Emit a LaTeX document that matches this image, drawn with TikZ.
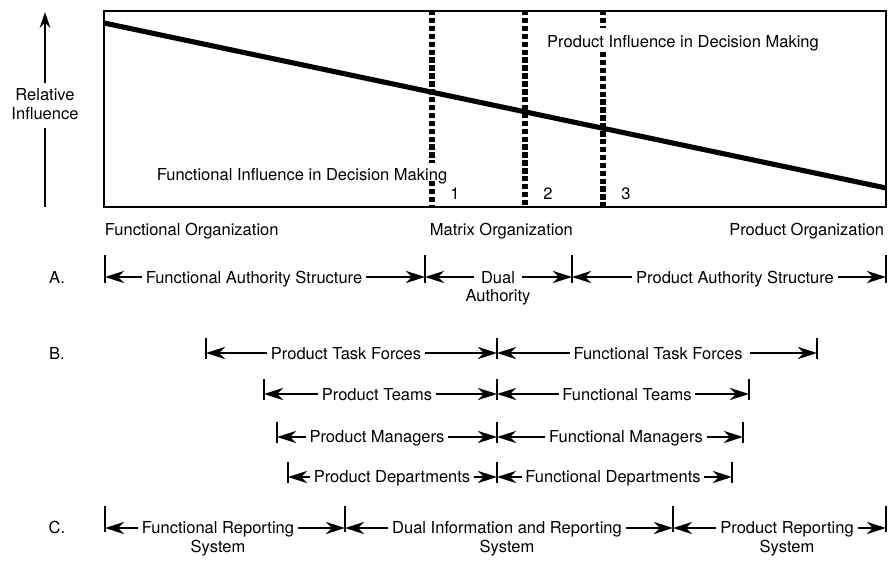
\documentclass[tikz,border=0pt]{standalone}
\usepackage{fontspec}
\setmainfont{TeX Gyre Heros}
\usetikzlibrary{arrows.meta,positioning}
\tikzstyle{txt} = [inner xsep=2pt, inner ysep=0pt, font=\fontsize{9.4}{11}\selectfont]
\tikzstyle{lbl} = [txt, anchor=base]
\tikzstyle{span} = [-{Stealth[length=11pt, width=7pt, inset=3.5pt]}, line width=0.9pt]
\tikzstyle{endtick} = [line width=0.7pt]
\tikzstyle{divider} = [line width=3.8pt, dash pattern=on 3.1pt off 1.4pt]
\tikzstyle{trend} = [line width=2.9pt]

\begin{document}
\begin{tikzpicture}[x=0.02cm, y=-0.02cm]
\useasboundingbox (0,0) rectangle (888,561);

% influence chart
\draw [line width=0.7pt] (104,11) rectangle (886,207);
\coordinate (tl) at (104,23);
\coordinate (tr) at (886,188);
\draw [trend] (tl) -- (tr);

\draw [divider] (432,10) -- (432,163);
\draw [divider] (432,181) -- (432,207);
\draw [divider] (525,10) -- (525,207);
\draw [divider] (603,10) -- (603,28);
\draw [divider] (603,52) -- (603,207);

\node [lbl] (funinf) at (302,180) {Functional Influence in Decision Making};
\node [lbl] (prodinf) at (683,47) {Product Influence in Decision Making};
\node [lbl] (n1) at (455,199) {1};
\node [lbl] (n2) at (548,199) {2};
\node [lbl] (n3) at (626,199) {3};

\node [txt, align=center] (relinf) at (45,104) {Relative\\Influence};
\coordinate (axtop) at (45,12);
\coordinate (axup) at (45,83);
\coordinate (axdn) at (45,128);
\coordinate (axbot) at (45,207);
\draw [-{Stealth[length=9pt, width=6pt, inset=3pt]}, line width=0.9pt] (axup) -- (axtop);
\draw [line width=0.9pt] (axdn) -- (axbot);

\node [lbl, anchor=base west] (forg) at (101,235) {Functional Organization};
\node [lbl, anchor=base west] (morg) at (426,235) {Matrix Organization};
\node [lbl, anchor=base east] (porg) at (888,235) {Product Organization};

% A. authority
\node [lbl] (rowa) at (57,283) {A.};
\coordinate (a0) at (105,277);
\coordinate (a1) at (425,277);
\coordinate (a2) at (572,277);
\coordinate (a3) at (886,277);
\foreach \t in {a0,a1,a2,a3}
  \draw [endtick] ([yshift=12.5pt]\t) -- ([yshift=-3.4pt]\t);
\node [lbl] (fas) at (254,283) {Functional Authority Structure};
\node [lbl] (dual) at (498,283) {Dual};
\node [lbl, below=10.8pt of dual.base, anchor=base] (dualb) {Authority};
\node [lbl] (pas) at (735,283) {Product Authority Structure};
\draw [span] (fas.west |- a0) -- (a0);
\draw [span] (fas.east |- a1) -- (a1);
\draw [span] ([xshift=-2pt]dual.west |- a1) -- (a1);
\draw [span] ([xshift=2pt]dual.east |- a2) -- (a2);
\draw [span] (pas.west |- a2) -- (a2);
\draw [span] (pas.east |- a3) -- (a3);

% B. task forces, teams, managers, departments
\node [lbl] (rowb) at (57,359) {B.};
\coordinate (b1l) at (206,353);
\coordinate (bm1) at (497,353);
\coordinate (b1r) at (817,353);
\coordinate (b2l) at (264,394);
\coordinate (bm2) at (497,394);
\coordinate (b2r) at (749,394);
\coordinate (b3l) at (277,437);
\coordinate (bm3) at (497,437);
\coordinate (b3r) at (743,437);
\coordinate (b4l) at (288,477);
\coordinate (bm4) at (497,477);
\coordinate (b4r) at (732,477);
\foreach \t in {b1l,bm1,b1r,b2l,bm2,b2r,b3l,bm3,b3r,b4l,bm4,b4r}
  \draw [endtick] ([yshift=8.5pt]\t) -- ([yshift=-3.4pt]\t);

\node [lbl] (ptf) at (346,359) {Product Task Forces};
\node [lbl] (ftf) at (658,359) {Functional Task Forces};
\node [lbl] (pt) at (377,400) {Product Teams};
\node [lbl] (ft) at (627,400) {Functional Teams};
\node [lbl] (pm) at (377,442) {Product Managers};
\node [lbl] (fm) at (626,442) {Functional Managers};
\node [lbl] (pd) at (392,482) {Product Departments};
\node [lbl] (fd) at (613,482) {Functional Departments};

\draw [span] (ptf.west |- b1l) -- (b1l);
\draw [span] (ptf.east |- bm1) -- (bm1);
\draw [span] (ftf.west |- bm1) -- (bm1);
\draw [span] ([xshift=2pt]ftf.east |- b1r) -- (b1r);
\draw [span] (pt.west |- b2l) -- (b2l);
\draw [span] (pt.east |- bm2) -- (bm2);
\draw [span] (ft.west |- bm2) -- (bm2);
\draw [span] (ft.east |- b2r) -- (b2r);
\draw [span] (pm.west |- b3l) -- (b3l);
\draw [span] (pm.east |- bm3) -- (bm3);
\draw [span] (fm.west |- bm3) -- (bm3);
\draw [span] (fm.east |- b3r) -- (b3r);
\draw [span] (pd.west |- b4l) -- (b4l);
\draw [span] (pd.east |- bm4) -- (bm4);
\draw [span] (fd.west |- bm4) -- (bm4);
\draw [span] (fd.east |- b4r) -- (b4r);

% C. reporting
\node [lbl] (rowc) at (57,533) {C.};
\coordinate (c0) at (105,528);
\coordinate (c1) at (345,528);
\coordinate (c2) at (673,528);
\coordinate (c3) at (886,528);
\foreach \t in {c0,c1,c2,c3}
  \draw [endtick] ([yshift=12.5pt]\t) -- ([yshift=-2.3pt]\t);
\node [lbl] (frs) at (218,533) {Functional Reporting};
\node [lbl, below=11pt of frs.base, anchor=base] (frsb) {System};
\node [lbl] (dirs) at (507,533) {Dual Information and Reporting};
\node [lbl, below=11pt of dirs.base, anchor=base] (dirsb) {System};
\node [lbl] (prs) at (787,533) {Product Reporting};
\node [lbl, below=11pt of prs.base, anchor=base] (prsb) {System};
\draw [span] (frs.west |- c0) -- (c0);
\draw [span] (frs.east |- c1) -- (c1);
\draw [span] (dirs.west |- c1) -- (c1);
\draw [span] (dirs.east |- c2) -- (c2);
\draw [span] (prs.west |- c2) -- (c2);
\draw [span] (prs.east |- c3) -- (c3);

\end{tikzpicture}
\end{document}
